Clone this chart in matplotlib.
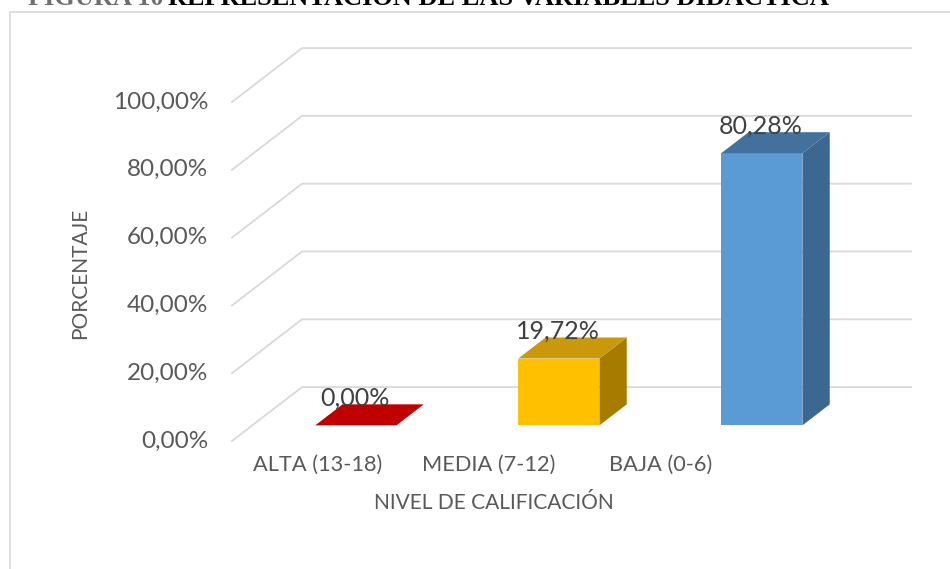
import matplotlib
matplotlib.use('Agg')
import matplotlib.pyplot as plt
from matplotlib.patches import Polygon, Rectangle

categorias = ['ALTA (13-18)', 'MEDIA (7-12)', 'BAJA (0-6)']
porcentajes = [0.00, 19.72, 80.28]
etiquetas = ['0,00%', '19,72%', '80,28%']
ticks_y = [0, 20, 40, 60, 80, 100]
ticks_lbl = ['0,00%', '20,00%', '40,00%', '60,00%', '80,00%', '100,00%']

col_front = ['#C00000', '#FFC000', '#5B9BD5']
col_top = ['#C00000', '#C9980B', '#41719C']
col_side = ['#A00000', '#A67C00', '#3B6790']

# oblique projection: depth d in [0,1]
DX = 0.345
DY = 15.9
def P(x, v, d):
    return (x + DX*d, v + DY*d)

fig = plt.figure(figsize=(9.5, 5.69), dpi=100)
ax = fig.add_axes([0, 0, 1, 1])
ax.set_xlim(-1.1429, 3.537)
ax.set_ylim(-37.76, 130.09)
ax.axis('off')

grid_c = '#D9D9D9'
for t in ticks_y:
    x0, y0 = P(0, t, 0)
    x1, y1 = P(0, t, 1)
    x2, y2 = P(3, t, 1)
    ax.plot([x0, x1, x2], [y0, y1, y2], color=grid_c, lw=1.3, zorder=1,
            solid_joinstyle='miter')

# bars
d0, d1 = 0.29, 0.68
w = 0.2
for i, v in enumerate(porcentajes):
    xc = i + 0.51
    xl, xr = xc - w, xc + w
    front = [P(xl, 0, d0), P(xr, 0, d0), P(xr, v, d0), P(xl, v, d0)]
    side = [P(xr, 0, d0), P(xr, 0, d1), P(xr, v, d1), P(xr, v, d0)]
    top = [P(xl, v, d0), P(xr, v, d0), P(xr, v, d1), P(xl, v, d1)]
    if v > 0:
        ax.add_patch(Polygon(front, closed=True, fc=col_front[i], ec='none', zorder=3))
        ax.add_patch(Polygon(side, closed=True, fc=col_side[i], ec='none', zorder=3))
    ax.add_patch(Polygon(top, closed=True, fc=col_top[i], ec='none', zorder=3))
    tx, ty = P(xc, v, d0)
    ax.annotate(etiquetas[i], (tx, ty), xytext=(-1, 19.5), textcoords='offset points',
                ha='center', va='center', fontsize=18, family='Lato',
                color='#404040', zorder=5)

# y tick labels
for t, lab in zip(ticks_y, ticks_lbl):
    ax.text(-0.118, t, lab, ha='right', va='center', fontsize=17.5,
            family='Lato', color='#595959')

# category labels
for i, lab in enumerate(categorias):
    ax.text(0.42 + 0.845*i, -7.1, lab, ha='center', va='center', fontsize=15.7,
            family='Lato', color='#595959')

fig.text(494/950, 1 - 503/569, 'NIVEL DE CALIFICACIÓN', ha='center', va='center',
         fontsize=15, family='Lato', color='#595959')
fig.text(80/950, 1 - 273/569, 'PORCENTAJE', ha='center', va='center', rotation=90,
         fontsize=15, family='Lato', color='#595959')

# chart frame
fig.patches.append(Rectangle((10/950, -0.05), 1.1, 1 - 12/569 + 0.05,
                             transform=fig.transFigure, fill=False,
                             ec='#D9D9D9', lw=1.2))

# cropped caption at top
fig.text(28/950, 1 - 5/569, 'FIGURA 10', ha='left', va='baseline',
         fontsize=19, family='Liberation Serif', fontweight='bold', color='#6E6E6E')
fig.text(168/950, 1 - 5/569, 'REPRESENTACIÓN DE LAS VARIABLES DIDÁCTICA', ha='left',
         va='baseline', fontsize=19, family='Liberation Serif', fontweight='bold',
         color='#000000')

fig.savefig('out.png', dpi=100)
